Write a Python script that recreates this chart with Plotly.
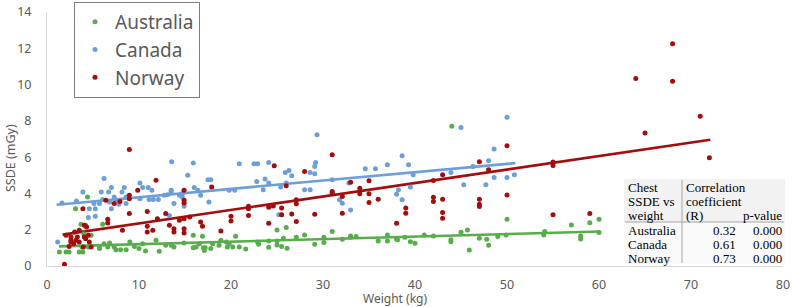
import plotly.graph_objects as go

# ---------------- data ----------------
aus_x = [1.34, 2.07, 2.4, 3.1, 4.4, 3.7, 4.2, 4.0, 4.8, 3.5, 3.9, 3.8, 4.5, 5.7, 6.05, 5.7, 6.2, 6.6, 6.8,
         7.3, 7.5, 8.0, 8.6, 9.0, 9.5, 10.0, 10.7, 10.4, 11.85, 12.2, 12.9, 13.5, 13.8, 14.9, 15.9, 15.9,
         16.2, 16.55, 16.9, 17.0, 17.1, 17.2, 17.8, 18.0, 18.7, 18.9, 19.5, 19.6, 19.8, 20.5, 20.2, 20.9,
         21.6, 22.9, 23.0, 24.1, 24.1, 25.0, 25.0, 25.0, 25.5, 25.7, 26.0, 26.1, 27.1, 28.0, 29.1, 30.1,
         30.1, 31.0, 32.1, 33.0, 33.0, 33.6, 36.0, 37.0, 37.0, 38.0, 38.1, 38.9, 39.5, 40.0, 41.0, 42.0,
         43.9, 43.9, 44.0, 45.0, 45.7, 45.9, 47.0, 47.8, 48.0, 49.0, 49.9, 50.0, 54.1, 54.0, 57.0, 58.0,
         58.0, 59.0, 60.0, 60.0]
aus_y = [0.77, 0.77, 0.77, 3.16, 3.8, 2.3, 2.24, 1.78, 1.69, 0.77, 0.77, 1.05, 1.05, 0.96, 2.3, 1.05, 1.23,
         1.05, 1.27, 1.05, 0.9, 0.9, 0.9, 1.32, 1.08, 0.96, 0.83, 1.23, 1.42, 0.81, 1.14, 1.14, 1.05, 1.27,
         1.69, 1.0, 1.05, 1.23, 1.64, 1.0, 0.86, 1.0, 0.96, 1.23, 1.14, 1.42, 1.32, 1.05, 1.23, 1.64, 1.05,
         1.05, 0.94, 1.32, 1.2, 1.38, 1.03, 1.99, 1.38, 1.16, 1.07, 1.53, 2.12, 0.98, 1.58, 1.71, 1.2, 1.29,
         1.58, 1.9, 1.47, 1.66, 1.58, 1.62, 1.38, 1.38, 1.71, 1.47, 1.44, 1.58, 1.34, 1.25, 1.71, 1.66,
         1.44, 1.34, 7.7, 1.86, 1.99, 0.88, 1.53, 1.47, 1.14, 1.62, 1.71, 2.58, 1.9, 1.71, 2.26, 1.66,
         1.49, 2.39, 2.58, 1.84]

can_x = [1.16, 1.63, 3.2, 3.9, 4.6, 4.5, 5.25, 5.1, 5.25, 5.7, 5.9, 6.05, 6.2, 6.7, 6.8, 7.0, 7.0, 7.3, 7.5,
         7.8, 8.15, 8.4, 8.6, 8.6, 10.1, 10.1, 10.4, 11.0, 11.1, 11.4, 11.55, 12.1, 12.75, 13.1, 13.55, 13.5,
         13.5, 13.3, 13.8, 14.4, 14.7, 14.7, 14.9, 14.9, 15.3, 15.9, 16.0, 16.4, 16.7, 17.5, 17.8, 17.6,
         19.8, 20.4, 20.9, 22.5, 22.9, 24.1, 22.8, 23.7, 24.1, 23.5, 25.2, 25.5, 25.4, 25.9, 26.3, 26.6,
         26.0, 28.0, 28.6, 28.6, 29.1, 29.2, 29.1, 29.35, 31.0, 31.8, 32.1, 33.0, 32.8, 34.6, 35.7, 37.0,
         38.6, 39.3, 38.2, 38.0, 38.6, 39.5, 39.8, 43.9, 45.0, 45.3, 46.3, 47.7, 48.0, 48.6, 48.6, 50.0,
         50.0, 50.8]
can_y = [1.32, 3.47, 3.58, 4.08, 3.16, 2.67, 2.74, 3.44, 3.16, 3.44, 4.08, 3.66, 4.82, 4.08, 3.53, 4.32,
         3.16, 3.8, 3.62, 3.4, 4.08, 4.32, 3.8, 3.44, 4.58, 3.71, 4.32, 4.32, 3.66, 4.17, 3.66, 3.66, 3.9,
         3.93, 5.74, 4.17, 4.08, 2.79, 3.44, 3.9, 3.99, 3.8, 3.44, 3.29, 5.0, 5.68, 4.32, 4.17, 3.9, 4.76,
         4.76, 3.53, 4.17, 4.17, 5.64, 5.64, 5.64, 5.7, 4.66, 4.79, 4.57, 4.2, 2.82, 2.82, 4.35, 5.16, 5.27,
         4.97, 4.57, 4.2, 4.2, 5.16, 5.49, 5.71, 5.08, 7.24, 4.75, 3.65, 3.46, 3.09, 4.57, 5.36, 5.36, 5.58,
         6.08, 5.58, 4.2, 3.96, 3.65, 4.35, 5.03, 5.16, 7.64, 4.48, 5.49, 4.48, 5.8, 6.45, 4.88, 8.2, 4.88,
         5.03]

nor_x = [1.9, 8.95, 11.85, 9.86, 8.95, 8.95, 8.95, 10.9, 7.93, 7.3, 6.4, 3.9, 6.6, 6.6, 8.2, 10.9, 10.9,
         11.5, 12.0, 12.9, 13.3, 13.8, 13.8, 14.9, 14.9, 14.9, 14.9, 14.9, 14.9, 14.4, 15.5, 16.7, 16.9,
         17.9, 18.9, 20.0, 20.0, 21.9, 21.9, 21.9, 2.07, 2.6, 2.6, 2.6, 3.0, 3.3, 3.5, 4.06, 4.06, 4.3, 4.2,
         4.6, 3.5, 2.9, 3.15, 3.95, 4.5, 2.4, 4.8, 24.7, 24.1, 24.1, 24.6, 25.5, 25.5, 26.0, 26.6, 27.1,
         27.1, 27.1, 28.0, 29.1, 31.0, 31.0, 31.0, 32.1, 32.1, 33.0, 34.0, 34.0, 35.0, 35.0, 35.0, 36.0,
         38.0, 39.0, 39.0, 42.0, 42.0, 42.0, 43.0, 43.0, 43.0, 43.0, 47.0, 47.0, 47.0, 47.0, 48.0, 50.0,
         50.0, 55.0, 55.0, 55.0, 59.0, 64.0, 65.0, 68.0, 68.0, 71.0, 72.0]
nor_y = [0.09, 6.42, 4.72, 4.17, 3.9, 3.7, 2.89, 3.0, 3.55, 3.44, 3.62, 3.16, 2.57, 2.37, 1.97, 2.19, 1.88,
         1.97, 2.61, 2.89, 2.24, 2.06, 1.88, 3.62, 3.47, 4.17, 2.61, 2.06, 1.82, 2.52, 2.7, 2.43, 2.19, 4.36,
         1.93, 2.74, 2.48, 3.29, 3.16, 2.79, 1.69, 1.6, 1.42, 1.32, 1.88, 1.6, 1.32, 1.6, 2.24, 2.15, 1.5,
         1.32, 1.97, 1.23, 1.42, 1.05, 1.69, 1.08, 1.05, 5.52, 3.24, 2.36, 3.31, 3.19, 2.82, 4.42, 2.87,
         3.65, 3.43, 2.45, 5.21, 2.85, 6.13, 4.1, 4.01, 3.83, 2.91, 4.62, 4.29, 3.98, 4.7, 3.98, 3.5, 3.68,
         2.36, 3.19, 2.91, 4.71, 3.79, 3.55, 5.03, 3.68, 2.95, 2.63, 5.75, 3.68, 3.41, 3.28, 5.3, 6.63,
         3.92, 5.73, 5.54, 2.83, 2.9, 10.33, 7.33, 12.25, 10.18, 8.25, 5.97]

# linear trend lines (end points)
aus_trend_x = [1.3, 60.1]
aus_trend_y = [1.08, 1.9]
can_trend_x = [1.05, 50.9]
can_trend_y = [3.38, 5.67]
nor_trend_x = [1.7, 72.1]
nor_trend_y = [1.73, 6.96]

series_names = ["Australia", "Canada", "Norway"]

x_ticks = [0, 10, 20, 30, 40, 50, 60, 70, 80]
y_ticks = [0, 2, 4, 6, 8, 10, 12, 14]

table_header = [["Chest", "SSDE vs", "weight"], ["Correlation", "coefficient", "(R)"], ["p-value"]]
table_rows = ["Australia", "Canada", "Norway"]
table_r = ["0.32", "0.61", "0.73"]
table_p = ["0.000", "0.000", "0.000"]

# ---------------- styling ----------------
colors = ["#57AD4B", "#6E9ED9", "#A30D0D"]
W, H = 792, 307
L, R, T, B = 47, 9, 12, 41
PW, PH = W - L - R, H - T - B


def px(xp):
    return (xp - L) / PW


def py(yp):
    return (H - B - yp) / PH


fig = go.Figure()
points = [(aus_x, aus_y), (can_x, can_y), (nor_x, nor_y)]
trends = [(aus_trend_x, aus_trend_y), (can_trend_x, can_trend_y), (nor_trend_x, nor_trend_y)]

for i, name in enumerate(series_names):
    tx, ty = trends[i]
    fig.add_trace(go.Scatter(x=tx, y=ty, mode="lines", line=dict(color=colors[i], width=2.6),
                             showlegend=False, hoverinfo="skip"))
for i, name in enumerate(series_names):
    xs, ys = points[i]
    fig.add_trace(go.Scatter(x=xs, y=ys, mode="markers", name=name, legendgroup=name,
                             marker=dict(color=colors[i], size=5, line=dict(width=0))))

axis_font = dict(family="Noto Sans", size=12.5, color="#595959")

fig.update_layout(
    width=W, height=H,
    margin=dict(l=L, r=R, t=T, b=B, pad=0, autoexpand=False),
    paper_bgcolor="white", plot_bgcolor="white",
    showlegend=True,
    legend=dict(xref="container", yref="container", x=74 / W, y=1 - 2 / H,
                xanchor="left", yanchor="top",
                bgcolor="white", bordercolor="#7F7F7F", borderwidth=1,
                font=dict(family="Noto Sans", size=19, color="#595959"),
                traceorder="grouped", tracegroupgap=0, itemwidth=30),
    xaxis=dict(range=[0, 80], tickvals=x_ticks, showgrid=False, zeroline=False,
               showline=True, linecolor="#D9D9D9", linewidth=1, ticks="",
               tickfont=axis_font, ticklabelstandoff=7, automargin=False),
    yaxis=dict(range=[0, 14], tickvals=y_ticks, showgrid=False, zeroline=False,
               showline=True, linecolor="#D9D9D9", linewidth=1, ticks="",
               tickfont=axis_font, ticklabelstandoff=12, automargin=False),
    font=dict(family="Noto Sans"),
)

annotations = [
    dict(text="Weight (kg)", x=px(395), y=py(298), xref="paper", yref="paper",
         showarrow=False, font=dict(family="Noto Sans", size=12, color="#595959"),
         xanchor="center", yanchor="middle"),
    dict(text="SSDE (mGy)", x=px(10), y=py(158), xref="paper", yref="paper", textangle=-90,
         showarrow=False, font=dict(family="Noto Sans", size=12.5, color="#595959"),
         xanchor="center", yanchor="middle"),
]

serif = dict(family="Liberation Serif", size=13, color="black")
row_y = [187, 201, 215]
for j, t in enumerate(table_header[0]):
    annotations.append(dict(text=t, x=px(626), y=py(row_y[j]), xref="paper", yref="paper",
                            showarrow=False, font=serif, xanchor="left", yanchor="middle"))
for j, t in enumerate(table_header[1]):
    annotations.append(dict(text=t, x=px(684), y=py(row_y[j]), xref="paper", yref="paper",
                            showarrow=False, font=serif, xanchor="left", yanchor="middle"))
annotations.append(dict(text=table_header[2][0], x=px(784), y=py(row_y[2]), xref="paper", yref="paper",
                        showarrow=False, font=serif, xanchor="right", yanchor="middle"))
body_y = [230, 244, 258]
for j in range(3):
    annotations.append(dict(text=table_rows[j], x=px(626), y=py(body_y[j]), xref="paper", yref="paper",
                            showarrow=False, font=serif, xanchor="left", yanchor="middle"))
    annotations.append(dict(text=table_r[j], x=px(738), y=py(body_y[j]), xref="paper", yref="paper",
                            showarrow=False, font=serif, xanchor="right", yanchor="middle"))
    annotations.append(dict(text=table_p[j], x=px(784), y=py(body_y[j]), xref="paper", yref="paper",
                            showarrow=False, font=serif, xanchor="right", yanchor="middle"))
fig.update_layout(annotations=annotations)

shapes = [
    dict(type="rect", xref="paper", yref="paper", x0=px(624), x1=px(785), y0=py(222), y1=py(179),
         fillcolor="#F2F2F2", line=dict(width=0), layer="below"),
    dict(type="rect", xref="paper", yref="paper", x0=px(624), x1=px(785), y0=py(264), y1=py(222),
         fillcolor="#FAFAFA", line=dict(width=0), layer="below"),
    dict(type="line", xref="paper", yref="paper", x0=px(625), x1=px(784), y0=py(222), y1=py(222),
         line=dict(color="#A6A6A6", width=1)),
    dict(type="line", xref="paper", yref="paper", x0=px(682), x1=px(682), y0=py(180), y1=py(263),
         line=dict(color="#A6A6A6", width=1)),
]
fig.update_layout(shapes=shapes)

fig.write_html("out.html")
